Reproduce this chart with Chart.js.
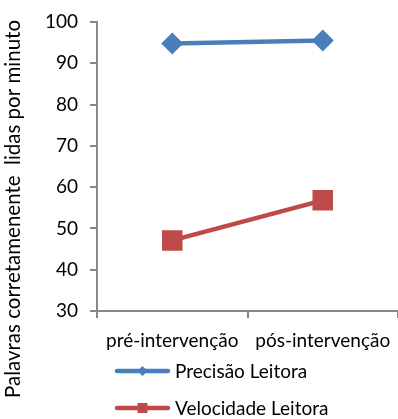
<!DOCTYPE html>
<html>
<head>
<meta charset="utf-8">
<script src="https://cdn.jsdelivr.net/npm/chart.js@4"></script>
<style>
  html, body { margin: 0; padding: 0; background: #fff; }
  #wrap { width: 398px; height: 419px; }
</style>
</head>
<body>
<div id="wrap"><canvas id="c" width="398" height="419"></canvas></div>
<script>
const categories = ['pré-intervenção', 'pós-intervenção'];
const precisaoLeitora = [94.8, 95.5];
const velocidadeLeitora = [47.1, 56.8];
const yTicks = { min: 30, max: 100, step: 10 };
const yTitle = 'Palavras corretamenente  lidas por minuto';

const FONT = 'Lato';
const BLUE = '#4A7EBB';
const RED = '#BE4B48';
const AXIS = '#888888';
const TEXT = '#000000';

// Vertical axis title, centred on the whole figure height
const axisTitle = {
  id: 'axisTitle',
  afterDraw(chart) {
    const ctx = chart.ctx;
    ctx.save();
    ctx.translate(20, 209);
    ctx.rotate(-Math.PI / 2);
    ctx.font = '20.5px ' + FONT;
    ctx.fillStyle = TEXT;
    ctx.textAlign = 'center';
    ctx.textBaseline = 'alphabetic';
    ctx.fillText(yTitle, 0, 0);
    ctx.restore();
  }
};

// Legend drawn as stacked rows below the plot, one series per row
const stackedLegend = {
  id: 'stackedLegend',
  afterDraw(chart) {
    const ctx = chart.ctx;
    const rows = [371, 408];
    chart.data.datasets.forEach((ds, i) => {
      const y = rows[i];
      const x0 = 117, x1 = 168, xm = (x0 + x1) / 2;
      ctx.save();
      ctx.strokeStyle = ds.borderColor;
      ctx.lineWidth = ds.borderWidth;
      ctx.lineCap = 'round';
      ctx.beginPath();
      ctx.moveTo(x0, y);
      ctx.lineTo(x1, y);
      ctx.stroke();
      ctx.fillStyle = ds.backgroundColor;
      ctx.beginPath();
      if (ds.pointStyle === 'rect') {
        const s = 5;
        ctx.rect(xm - s, y - s, 2 * s, 2 * s);
      } else {
        const r = 5;
        ctx.moveTo(xm, y - r); ctx.lineTo(xm + r, y); ctx.lineTo(xm, y + r); ctx.lineTo(xm - r, y); ctx.closePath();
      }
      ctx.fill();
      ctx.fillStyle = TEXT;
      ctx.font = '19px ' + FONT;
      ctx.textBaseline = 'middle';
      ctx.textAlign = 'left';
      ctx.fillText(ds.label, 175, y + 1);
      ctx.restore();
    });
  }
};

new Chart(document.getElementById('c'), {
  type: 'line',
  data: {
    labels: categories,
    datasets: [
      {
        label: 'Precisão Leitora',
        data: precisaoLeitora,
        borderColor: BLUE,
        backgroundColor: BLUE,
        borderWidth: 4.5,
        pointStyle: 'rectRot',
        pointRadius: 11,
        pointBorderWidth: 0,
        tension: 0
      },
      {
        label: 'Velocidade Leitora',
        data: velocidadeLeitora,
        borderColor: RED,
        backgroundColor: RED,
        borderWidth: 4.5,
        pointStyle: 'rect',
        pointRadius: 14.5,
        pointBorderWidth: 0,
        tension: 0
      }
    ]
  },
  options: {
    responsive: false,
    animation: false,
    layout: { autoPadding: false, padding: { top: 22, right: -4, bottom: 58, left: 0 } },
    plugins: {
      legend: { display: false },
      tooltip: { enabled: false }
    },
    scales: {
      x: {
        offset: true,
        afterFit(scale) {
          scale.height = 50;
          scale.paddingLeft = 0;
          scale.paddingRight = 0;
        },
        grid: {
          offset: true,
          drawOnChartArea: false,
          drawTicks: true,
          tickLength: 7,
          color: AXIS,
          lineWidth: 2
        },
        border: { color: AXIS, width: 2 },
        ticks: { color: TEXT, font: { family: FONT, size: 19 }, padding: 11, maxRotation: 0, autoSkip: false }
      },
      y: {
        min: yTicks.min,
        max: yTicks.max,
        afterFit(scale) {
          scale.width = 97;
          scale.paddingTop = 0;
          scale.paddingBottom = 0;
        },
        grid: {
          drawOnChartArea: false,
          drawTicks: true,
          tickLength: 7,
          color: AXIS,
          lineWidth: 2
        },
        border: { color: AXIS, width: 2 },
        ticks: { stepSize: yTicks.step, color: TEXT, font: { family: FONT, size: 19 }, padding: 12 },
        title: { display: false }
      }
    }
  },
  plugins: [axisTitle, stackedLegend]
});
</script>
</body>
</html>
